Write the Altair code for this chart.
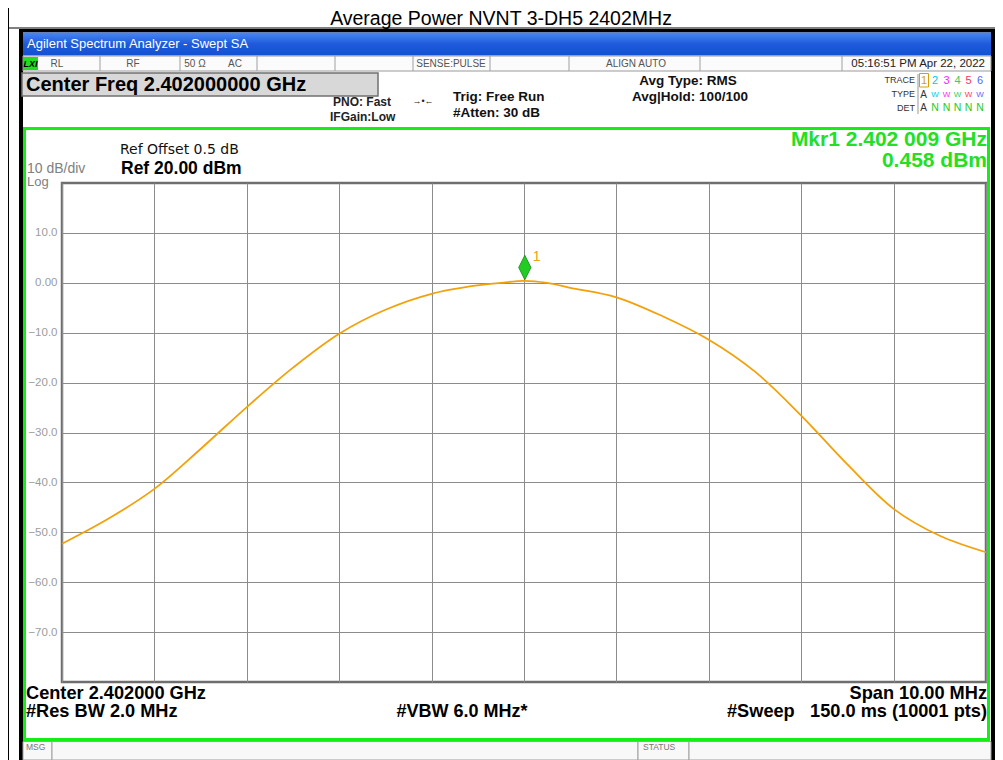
import altair as alt
import pandas as pd

# ---------------- data ----------------
freq_mhz = [2397.0, 2397.5, 2398.0, 2398.5, 2399.0, 2399.5, 2400.0, 2400.5,
            2401.0, 2401.5, 2401.75, 2402.0, 2402.25, 2402.5, 2403.0, 2403.5,
            2404.0, 2404.5, 2405.0, 2405.5, 2406.0, 2406.5, 2407.0]
level_dbm = [-52.3, -47.3, -41.3, -33.3, -24.9, -17.0, -10.2, -5.4,
             -2.2, -0.5, 0.0, 0.4, 0.0, -1.0, -2.9, -6.7,
             -11.4, -17.8, -26.6, -36.4, -45.3, -50.7, -54.0]
marker_freq = [2402.009]
marker_level = [0.458]
marker_name = ["1"]
x_grid_mhz = [2397, 2398, 2399, 2400, 2401, 2402, 2403, 2404, 2405, 2406, 2407]
y_tick_dbm = [10, 0, -10, -20, -30, -40, -50, -60, -70]

trace_colors = ["#d9a000", "#00c8e8", "#ff22ff", "#33cc66", "#ff3355", "#5566ff"]

FONT = "Liberation Sans"
X0, Y0 = 62, 183          # page position of the plot area's top-left corner
ONE = pd.DataFrame({"k": [0]})


def px(v):
    return v - X0


def py(v):
    return v - Y0


def box(x1, y1, x2, y2, fill=None, stroke=None, sw=1.0):
    kw = {}
    if fill is None:
        kw["fill"] = "white"
        kw["fillOpacity"] = 0
    else:
        kw["fill"] = fill
    if stroke is not None:
        kw["stroke"] = stroke
        kw["strokeWidth"] = sw
    return alt.Chart(ONE).mark_rect(**kw).encode(
        x=alt.value(px(x1)), x2=alt.value(px(x2)),
        y=alt.value(py(y1)), y2=alt.value(py(y2)))


def line(x1, y1, x2, y2, color, w=1.0):
    return alt.Chart(ONE).mark_rule(color=color, strokeWidth=w).encode(
        x=alt.value(px(x1)), x2=alt.value(px(x2)),
        y=alt.value(py(y1)), y2=alt.value(py(y2)))


def label(s, x, y, size, color="#000000", weight="normal", align="left",
          style="normal", font=FONT):
    return alt.Chart(ONE).mark_text(
        text=s, fontSize=size, color=color, fontWeight=weight, align=align,
        baseline="middle", font=font, fontStyle=style).encode(
        x=alt.value(px(x)), y=alt.value(py(y)))


layers = []

# outer report table
layers.append(line(8.5, 28, 995, 28, "#000000", 1))
layers.append(line(8.5, 8, 8.5, 760, "#000000", 1))
layers.append(label("Average Power NVNT 3-DH5 2402MHz", 501, 19, 19.5, "#000000", align="center"))

# analyzer window frame
layers.append(box(19, 29, 995, 32.5, "#000000"))
layers.append(box(19, 29, 23, 760, "#000000"))
layers.append(box(991, 29, 995, 760, "#000000"))
blue = alt.Gradient(gradient="linear", x1=0, y1=0, x2=0, y2=1,
                    stops=[alt.GradientStop(color="#4a86f2", offset=0),
                           alt.GradientStop(color="#1d5bdc", offset=0.5),
                           alt.GradientStop(color="#1450d2", offset=1)])
layers.append(box(23, 32.5, 991, 55.5, blue))
layers.append(label("Agilent Spectrum Analyzer - Swept SA", 27, 44, 13, "#ffffff"))

# status row
layers.append(box(23, 56, 991, 71, "#fbfbfb", "#9a9a9a", 1))
for sx in [100, 180, 257, 335, 413, 490, 569, 700, 842]:
    layers.append(line(sx, 56, sx, 71, "#a0a0a0", 1))
layers.append(box(23, 57, 38, 70, "#22dd22"))
layers.append(label("LXI", 30.5, 63.5, 9, "#000000", "bold", "center", "italic"))
layers.append(label("RL", 57, 63.5, 10, "#555555", align="center"))
layers.append(label("RF", 133, 63.5, 10, "#555555", align="center"))
layers.append(label("50 Ω", 195, 63.5, 10, "#555555", align="center"))
layers.append(label("AC", 235, 63.5, 10, "#555555", align="center"))
layers.append(label("SENSE:PULSE", 451, 63.5, 10, "#555555", align="center"))
layers.append(label("ALIGN AUTO", 636, 63.5, 10, "#555555", align="center"))
layers.append(label("05:16:51 PM Apr 22, 2022", 985, 63.5, 11.5, "#222222", align="right"))

# header
layers.append(box(22, 73, 378, 96, "#d8d8d8", "#707070", 1.5))
layers.append(label("Center Freq 2.402000000 GHz", 26, 84.5, 20, "#000000", "bold"))
layers.append(label("PNO: Fast", 333, 102, 12, "#222222", "bold"))
layers.append(label("→•←", 423, 101, 9, "#222222", align="center"))
layers.append(label("IFGain:Low", 330, 117, 12, "#222222", "bold"))
layers.append(label("Trig: Free Run", 453, 97, 13.5, "#111111", "bold"))
layers.append(label("#Atten: 30 dB", 453, 113, 13.5, "#111111", "bold"))
layers.append(label("Avg Type: RMS", 688, 81, 13.5, "#111111", "bold", "center"))
layers.append(label("Avg|Hold: 100/100", 690, 97, 13.5, "#111111", "bold", "center"))

# trace legend
layers.append(line(918, 74, 918, 114, "#999999", 1))
layers.append(label("TRACE", 915, 80, 9, "#333333", align="right"))
layers.append(label("TYPE", 915, 94, 9, "#333333", align="right"))
layers.append(label("DET", 915, 108, 9, "#333333", align="right"))
layers.append(box(919.5, 73.5, 928.5, 87, None, trace_colors[0], 1))
digit_x = [924, 935, 946.5, 957.5, 968.5, 980]
for i, dx in enumerate(digit_x):
    layers.append(label(str(i + 1), dx, 80.5, 11, trace_colors[i], align="center"))
layers.append(label("A", 923.5, 94.5, 10, "#333333", align="center"))
layers.append(label("A", 923.5, 108, 10, "#333333", align="center"))
for i, dx in enumerate(digit_x[1:]):
    layers.append(label("W", dx, 94.5, 8, trace_colors[i + 1], align="center"))
    layers.append(label("N", dx, 108, 10.5, "#22cc22", align="center"))

# green measurement frame
layers.append(box(24.5, 128.5, 988.5, 739.5, None, "#14ee14", 3))
layers.append(label("Ref Offset 0.5 dB", 120, 150, 14, "#111111", font="DejaVu Sans"))
layers.append(label("Ref 20.00 dBm", 121, 169, 17.5, "#000000", "bold"))
layers.append(label("10 dB/div", 27, 168.5, 14, "#808080"))
layers.append(label("Log", 27, 182, 13, "#808080"))
layers.append(label("Mkr1 2.402 009 GHz", 987, 140, 21, "#22e022", "bold", "right"))
layers.append(label("0.458 dBm", 987, 161, 21, "#22e022", "bold", "right"))

# bottom annotations
layers.append(label("Center 2.402000 GHz", 26, 694, 18.2, "#000000", "bold"))
layers.append(label("#Res BW 2.0 MHz", 26, 712, 18.2, "#000000", "bold"))
layers.append(label("#VBW 6.0 MHz*", 462, 712, 18, "#000000", "bold", "center"))
layers.append(label("Span 10.00 MHz", 987, 694, 18.2, "#000000", "bold", "right"))
layers.append(label("#Sweep", 727, 712, 18.2, "#000000", "bold"))
layers.append(label("150.0 ms (10001 pts)", 987, 712, 18.2, "#000000", "bold", "right"))

# message row
for (a, b) in [(23, 52), (52, 638), (638, 689), (689, 991)]:
    layers.append(box(a, 741.5, b, 760, "#f8f8f8", "#a0a0a0", 1))
layers.append(label("MSG", 26, 747, 8.5, "#777777"))
layers.append(label("STATUS", 643, 747, 8.5, "#777777"))

# ---------------- trace ----------------
trace_df = pd.DataFrame({"freq": freq_mhz, "level": level_dbm})
mkr_df = pd.DataFrame({"freq": marker_freq, "level": marker_level, "name": marker_name})

xscale = alt.Scale(domain=[2397, 2407], nice=False, zero=False)
yscale = alt.Scale(domain=[-80, 20], nice=False, zero=False)

trace = alt.Chart(trace_df).mark_line(
    color="#f2a10a", strokeWidth=1.8, interpolate="catmull-rom").encode(
    x=alt.X("freq:Q", scale=xscale, title=None,
            axis=alt.Axis(values=x_grid_mhz, labels=False, ticks=False, domain=False,
                          grid=True, gridColor="#8c8c8c", gridWidth=1, gridOpacity=1)),
    y=alt.Y("level:Q", scale=yscale, title=None,
            axis=alt.Axis(values=y_tick_dbm, ticks=False, domain=False, grid=True,
                          gridColor="#8c8c8c", gridWidth=1, gridOpacity=1,
                          labelExpr="datum.value == 0 ? '0.00' : format(datum.value, '.1f')",
                          labelColor="#9c9c9c", labelFontSize=11.5, labelFont=FONT,
                          labelPadding=5)))

marker = alt.Chart(mkr_df).mark_point(
    shape="M0,-1L0.5,0L0,1L-0.5,0Z", filled=True, fill="#22cc22", stroke="#118811",
    strokeWidth=0.8, size=600, opacity=1, yOffset=-13).encode(
    x=alt.X("freq:Q", scale=xscale, title=None),
    y=alt.Y("level:Q", scale=yscale, title=None))

marker_text = alt.Chart(mkr_df).mark_text(
    color="#f0a010", fontSize=14, font=FONT, align="left", baseline="middle",
    dx=8, dy=-24).encode(
    x=alt.X("freq:Q", scale=xscale, title=None),
    y=alt.Y("level:Q", scale=yscale, title=None),
    text="name:N")

layers += [trace, marker, marker_text]

chart = alt.layer(*layers).properties(
    width=924, height=499,
    padding={"left": 54, "top": 175, "right": 9, "bottom": 78},
    autosize=alt.AutoSizeParams(type="none"),
    background="white",
).configure_view(stroke="#6e6e6e", strokeWidth=2.5)

chart.save("out.html", embed_options={"renderer": "svg", "actions": False})
